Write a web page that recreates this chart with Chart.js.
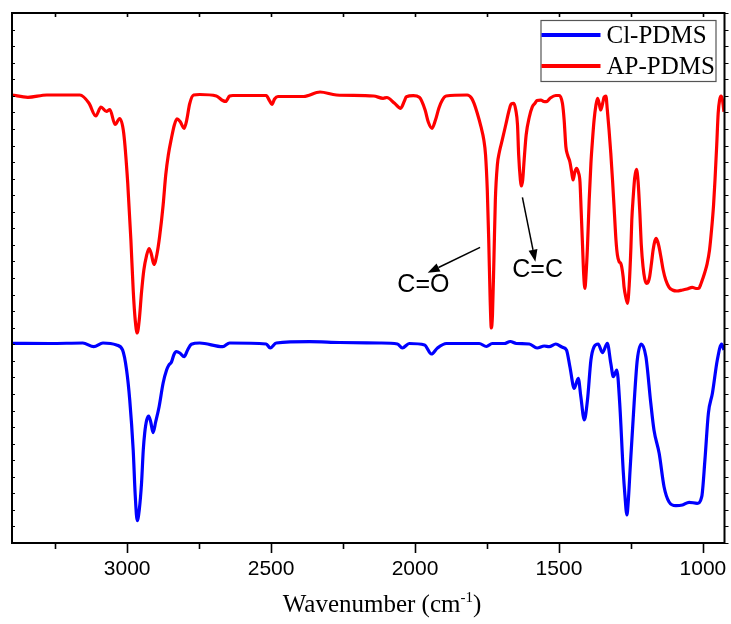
<!DOCTYPE html>
<html>
<head>
<meta charset="utf-8">
<script src="https://cdn.jsdelivr.net/npm/chart.js@4.4.1/dist/chart.umd.min.js"></script>
<style>
html,body{margin:0;padding:0;background:#fff;}
#wrap{width:731px;height:624px;}
</style>
</head>
<body>
<div id="wrap"><canvas id="c" width="731" height="624"></canvas></div>
<script>
// ---- data (wavenumber in cm^-1, signal in arbitrary transmittance units) ----
const seriesLabels = ['Cl-PDMS', 'AP-PDMS'];
const xTickValues = [3000, 2500, 2000, 1500, 1000];
const xMinorTickValues = [3250, 2750, 2250, 1750, 1250];

const apWavenumber = [3400,3345,3279,3164,3133,3109,3091,3072,3060,3042,3026,3012,2998,2987,2979,2972,2965,2958,2950,2942,2933,2924,2916,2907,2897,2887,2875,2866,2857,2846,2836,2827,2816,2802,2793,2783,2769,2748,2690,2668,2658,2644,2633,2517,2505,2497,2488,2476,2387,2330,2273,2144,2111,2098,2071,2050,2037,2030,2006,1985,1965,1954,1941,1929,1917,1905,1892,1819,1804,1795,1784,1771,1761,1755,1749,1744,1739,1735,1731,1726,1721,1714,1707,1697,1685,1673,1666,1657,1650,1644,1640,1634,1631,1626,1621,1614,1603,1593,1584,1576,1563,1553,1544,1530,1511,1499,1488,1482,1476,1470,1462,1456,1451,1445,1439,1433,1427,1423,1418,1414,1410,1406,1401,1395,1389,1383,1378,1372,1366,1360,1355,1348,1343,1337,1332,1326,1320,1314,1308,1302,1297,1291,1286,1282,1277,1274,1268,1262,1256,1250,1247,1242,1237,1231,1225,1219,1214,1208,1202,1196,1190,1185,1179,1173,1167,1162,1154,1146,1138,1129,1118,1106,1090,1071,1055,1037,1024,1014,1007,1000,993,985,977,970,963,958,952,947,942,937,932,927];
const apSignal = [84.53,84.09,84.53,84.53,83.02,80.57,82.26,81.42,81.79,78.96,80.09,77.36,67.92,57.17,47.74,42.08,39.62,42.08,47.36,51.51,54.15,55.57,54.53,52.55,54.34,57.92,63.77,69.43,73.21,76.42,78.87,80.04,79.53,78.25,79.81,82.83,84.53,84.62,84.34,83.49,83.30,84.34,84.43,84.43,83.40,82.74,83.77,84.25,84.25,85.09,84.53,84.34,83.91,84.06,82.96,82.02,83.40,84.21,84.40,84.09,81.70,79.43,78.25,79.81,82.08,83.58,84.34,84.53,83.96,82.96,81.13,78.55,76.04,73.21,66.60,57.17,45.85,40.57,43.02,53.40,64.72,71.32,73.77,76.04,78.87,81.70,82.83,82.96,81.70,78.87,73.21,68.49,67.36,68.49,72.26,76.98,80.38,82.26,82.92,83.49,83.58,83.30,83.26,83.96,84.43,84.43,82.96,79.81,74.77,73.21,71.89,70.00,68.49,70.00,70.70,70.00,68.11,62.83,55.91,50.57,48.06,50.57,55.91,64.72,71.64,76.42,79.81,82.45,83.91,82.83,81.70,83.02,84.15,84.34,81.70,77.92,73.58,68.49,62.83,57.17,54.34,53.08,52.83,52.08,50.19,48.36,46.42,45.23,48.68,55.91,60.94,65.34,68.87,70.51,68.11,62.21,56.23,52.13,49.81,49.00,49.25,50.25,52.64,55.28,56.98,57.49,56.23,54.02,51.51,49.62,48.30,47.74,47.55,47.74,47.92,48.25,48.02,48.06,48.87,49.94,51.13,52.77,55.28,59.06,63.77,68.49,75.09,81.08,83.58,84.34,83.58,81.38];

const clWavenumber = [3400,3268,3154,3116,3084,3037,3016,3002,2991,2979,2972,2965,2958,2950,2944,2939,2932,2925,2918,2910,2901,2889,2875,2863,2855,2846,2838,2829,2817,2802,2790,2777,2748,2668,2644,2517,2503,2482,2366,2262,2124,2061,2044,2020,1967,1943,1922,1891,1777,1752,1732,1690,1669,1648,1603,1576,1551,1534,1511,1488,1474,1462,1447,1433,1424,1412,1401,1389,1378,1364,1349,1332,1320,1311,1299,1289,1277,1271,1264,1259,1253,1239,1228,1214,1198,1181,1170,1152,1135,1118,1094,1071,1048,1020,1004,993,981,967,950,935,927];
const clSignal = [37.68,37.64,37.74,37.04,37.74,37.36,36.42,32.64,26.98,17.55,9.06,4.21,6.23,11.32,17.55,20.75,23.21,23.96,22.83,20.81,22.83,25.72,30.19,32.64,33.58,34.15,35.47,36.09,35.85,35.15,36.42,37.49,37.74,37.04,37.74,37.55,36.79,37.74,37.98,37.83,37.74,37.55,36.79,37.64,37.36,35.66,36.79,37.64,37.64,37.08,37.64,37.64,38.02,37.64,37.55,36.79,37.17,37.04,37.55,36.92,36.42,33.26,29.19,31.08,27.60,23.21,26.98,34.53,37.04,37.55,35.91,37.68,33.91,31.38,32.64,26.36,13.77,9.06,5.28,8.11,13.77,26.36,34.53,37.55,35.15,26.36,21.32,16.92,10.62,7.79,7.04,7.17,7.68,7.49,8.74,15.66,24.47,28.25,34.53,37.55,36.42];

// annotation labels with anchor (wavenumber, signal)
const annotTexts = ['C=O', 'C=C'];
const annotTextPos = [[1971, 48.68], [1574, 51.51]];
const annotArrowFrom = [[1774, 55.79], [1627, 65.23]];
const annotArrowTo = [[1956, 51.0], [1582, 53.08]];

const toXY = (xs, ys) => xs.map((v, i) => ({x: v, y: ys[i]}));
const allXTicks = xTickValues.concat(xMinorTickValues).sort((p, q) => p - q);

const decor = {
  id: 'decor',
  afterDraw(chart) {
    const {ctx, chartArea: a, scales: {x, y}} = chart;
    ctx.save();
    // frame
    ctx.strokeStyle = '#000';
    ctx.lineWidth = 2;
    ctx.strokeRect(a.left, a.top, a.right - a.left, a.bottom - a.top);
    // x ticks
    ctx.lineWidth = 1.6;
    x.ticks.forEach(t => {
      const px = Math.round(x.getPixelForValue(t.value)) + 0.5;
      const major = xTickValues.includes(t.value);
      ctx.beginPath();
      ctx.moveTo(px, a.bottom);
      ctx.lineTo(px, a.bottom + (major ? 10 : 6));
      ctx.moveTo(px, a.top);
      ctx.lineTo(px, a.top + 4);
      ctx.stroke();
    });
    // y ticks
    ctx.lineWidth = 1.2;
    y.ticks.forEach(t => {
      const py = Math.round(y.getPixelForValue(t.value)) + 0.5;
      ctx.beginPath();
      ctx.moveTo(a.left, py); ctx.lineTo(a.left + 3, py);
      ctx.moveTo(a.right, py); ctx.lineTo(a.right + 4, py);
      ctx.stroke();
    });
    // axis title with superscript
    ctx.fillStyle = '#000';
    ctx.textBaseline = 'alphabetic';
    const main = 'Wavenumber (cm', sup = '-1', end = ')';
    ctx.font = '25px "Liberation Serif", "Times New Roman", serif';
    const w1 = ctx.measureText(main).width, w3 = ctx.measureText(end).width;
    ctx.font = '15px "Liberation Serif", "Times New Roman", serif';
    const w2 = ctx.measureText(sup).width;
    let tx = 382 - (w1 + w2 + w3) / 2;
    const ty = 612;
    ctx.font = '25px "Liberation Serif", "Times New Roman", serif';
    ctx.textAlign = 'left';
    ctx.fillText(main, tx, ty);
    ctx.font = '15px "Liberation Serif", "Times New Roman", serif';
    ctx.fillText(sup, tx + w1, ty - 10);
    ctx.font = '25px "Liberation Serif", "Times New Roman", serif';
    ctx.fillText(end, tx + w1 + w2, ty);
    // legend
    const lx = a.right - 184, ly = a.top + 7, lw = 175, lh = 61;
    ctx.fillStyle = '#fff';
    ctx.fillRect(lx, ly, lw, lh);
    ctx.strokeStyle = '#555';
    ctx.lineWidth = 1.2;
    ctx.strokeRect(lx + 0.5, ly + 0.5, lw, lh);
    ctx.font = '25px "Liberation Serif", "Times New Roman", serif';
    ctx.textBaseline = 'middle';
    chart.data.datasets.forEach((ds, i) => {
      const yy = ly + 15 + i * 31;
      ctx.strokeStyle = ds.borderColor;
      ctx.lineWidth = 4;
      ctx.beginPath();
      ctx.moveTo(lx + 1, yy); ctx.lineTo(lx + 60, yy);
      ctx.stroke();
      ctx.fillStyle = '#000';
      ctx.fillText(ds.label, lx + 66, yy + 1);
    });
    // annotations
    ctx.font = '25px "Liberation Sans", Arial, sans-serif';
    ctx.textAlign = 'center';
    ctx.textBaseline = 'middle';
    annotTexts.forEach((t, i) => {
      ctx.fillStyle = '#000';
      ctx.fillText(t, x.getPixelForValue(annotTextPos[i][0]), y.getPixelForValue(annotTextPos[i][1]));
      const x0 = x.getPixelForValue(annotArrowFrom[i][0]), y0 = y.getPixelForValue(annotArrowFrom[i][1]);
      const x1 = x.getPixelForValue(annotArrowTo[i][0]), y1 = y.getPixelForValue(annotArrowTo[i][1]);
      const ang = Math.atan2(y1 - y0, x1 - x0);
      const hl = 12, hw = 4.5;
      ctx.strokeStyle = '#000';
      ctx.lineWidth = 1.5;
      ctx.beginPath();
      ctx.moveTo(x0, y0);
      ctx.lineTo(x1 - hl * Math.cos(ang), y1 - hl * Math.sin(ang));
      ctx.stroke();
      ctx.beginPath();
      ctx.moveTo(x1, y1);
      ctx.lineTo(x1 - hl * Math.cos(ang) + hw * Math.sin(ang), y1 - hl * Math.sin(ang) - hw * Math.cos(ang));
      ctx.lineTo(x1 - hl * Math.cos(ang) - hw * Math.sin(ang), y1 - hl * Math.sin(ang) + hw * Math.cos(ang));
      ctx.closePath();
      ctx.fill();
    });
    ctx.restore();
  }
};

new Chart(document.getElementById('c'), {
  type: 'line',
  data: {
    datasets: [
      {label: seriesLabels[0], data: toXY(clWavenumber, clSignal), borderColor: '#0000ff', borderWidth: 3.2, pointRadius: 0, cubicInterpolationMode: 'monotone', fill: false},
      {label: seriesLabels[1], data: toXY(apWavenumber, apSignal), borderColor: '#ff0000', borderWidth: 3.2, pointRadius: 0, cubicInterpolationMode: 'monotone', fill: false}
    ]
  },
  options: {
    responsive: false,
    animation: false,
    devicePixelRatio: 1,
    layout: {padding: {top: 13, right: 6.5, left: 0, bottom: 0}},
    plugins: {legend: {display: false}, tooltip: {enabled: false}},
    scales: {
      x: {
        type: 'linear', reverse: true, min: 925, max: 3400,
        grid: {display: false},
        border: {display: false},
        afterBuildTicks: s => { s.ticks = allXTicks.map(v => ({value: v})); },
        ticks: {
          autoSkip: false, maxRotation: 0,
          padding: 6, color: '#000',
          font: {family: '"Liberation Sans", Arial, sans-serif', size: 21},
          callback: v => xTickValues.includes(v) ? String(v) : ''
        },
        afterFit: s => { s.height = 81; }
      },
      y: {
        type: 'linear', min: 0, max: 100,
        grid: {display: false},
        border: {display: false},
        ticks: {display: false, stepSize: 3.125},
        afterFit: s => { s.width = 12; }
      }
    }
  },
  plugins: [decor]
});
</script>
</body>
</html>
